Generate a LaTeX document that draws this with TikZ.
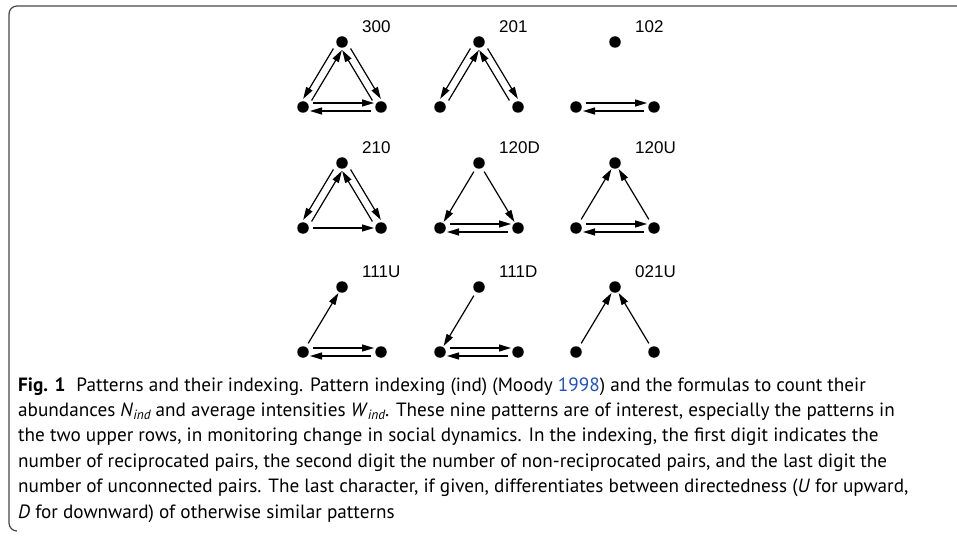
\documentclass[tikz,border=0pt]{standalone}
\usepackage{fontspec}
\setmainfont{PT Sans}
\newfontfamily\labelfont{Liberation Sans}
\usetikzlibrary{arrows.meta,calc}
\definecolor{linkblue}{RGB}{30,80,200}
\definecolor{framegray}{RGB}{70,70,70}
\tikzset{
  x=1pt,y=1pt,
  dot/.style={circle,fill=black,inner sep=0pt,minimum size=11.5pt},
  arr/.style={line width=1.2pt,-{Triangle[length=12pt,width=7pt]}},
  plabel/.style={font=\labelfont\fontsize{17}{17}\selectfont,anchor=west,inner sep=0pt},
  capline/.style={font=\fontsize{19.2}{20}\selectfont,anchor=base west,inner sep=0pt},
  frame/.style={draw=framegray,line width=1.2pt},
}
\newcommand{\tri}[4]{%
  \node[dot] (#1t) at (#2,-#3) {};
  \node[dot] (#1l) at (#2-39,-#3-65) {};
  \node[dot] (#1r) at (#2+39,-#3-65) {};
  \node[plabel] (#1lab) at (#2+20,-#3+15) {#4};}
\newcommand{\edge}[3]{%
  \draw[arr] ($(#1)!10pt!(#2)!#3!90:(#2)$) -- ($(#2)!7pt!(#1)!#3!-90:(#1)$);}
\newcommand{\recip}[3]{\edge{#1}{#2}{#3}\edge{#2}{#1}{#3}}
\newcommand{\subind}{\raisebox{-0.35ex}{\fontsize{13.4}{13.4}\selectfont\itshape ind}}
\begin{document}
\begin{tikzpicture}
\useasboundingbox (0,0) rectangle (957,-537);
\draw[frame] (957,-6) -- (17,-6) arc[start angle=90,end angle=180,radius=8] -- (9,-523) arc[start angle=180,end angle=270,radius=8];
% row 1
\tri{a}{342}{42}{300}
\tri{b}{479}{42}{201}
\tri{c}{615}{42}{102}
% row 2
\tri{d}{342}{163}{210}
\tri{e}{479}{163}{120D}
\tri{f}{615}{163}{120U}
% row 3
\tri{g}{342}{287}{111U}
\tri{h}{479}{287}{111D}
\tri{i}{615}{287}{021U}
% 300
\recip{at}{al}{-4pt}\recip{at}{ar}{4pt}\recip{al}{ar}{4pt}
% 201
\recip{bt}{bl}{-4pt}\recip{bt}{br}{4pt}
% 102
\recip{cl}{cr}{4pt}
% 210
\recip{dt}{dl}{-4pt}\recip{dt}{dr}{4pt}\edge{dl}{dr}{0pt}
% 120D
\edge{et}{el}{0pt}\edge{et}{er}{0pt}\recip{el}{er}{4pt}
% 120U
\edge{fl}{ft}{0pt}\edge{fr}{ft}{0pt}\recip{fl}{fr}{4pt}
% 111U
\edge{gl}{gt}{0pt}\recip{gl}{gr}{4pt}
% 111D
\edge{ht}{hl}{0pt}\recip{hl}{hr}{4pt}
% 021U
\edge{il}{it}{0pt}\edge{ir}{it}{0pt}
% caption
\node[capline] (cap1) at (18,-391) {\textbf{Fig. 1}\hspace{11pt}Patterns and their indexing. Pattern indexing (ind) (Moody \textcolor{linkblue}{1998}) and the formulas to count their};
\node[capline] (cap2) at (18,-416.4) {abundances \textit{N}\subind\ and average intensities \textit{W}\subind. These nine patterns are of interest, especially the patterns in};
\node[capline] (cap3) at (18,-441.8) {the two upper rows, in monitoring change in social dynamics. In the indexing, the first digit indicates the};
\node[capline] (cap4) at (18,-467.2) {number of reciprocated pairs, the second digit the number of non-reciprocated pairs, and the last digit the};
\node[capline] (cap5) at (18,-492.6) {number of unconnected pairs. The last character, if given, differentiates between directedness (\textit{U} for upward,};
\node[capline] (cap6) at (18,-518) {\textit{D} for downward) of otherwise similar patterns};
\end{tikzpicture}
\end{document}
